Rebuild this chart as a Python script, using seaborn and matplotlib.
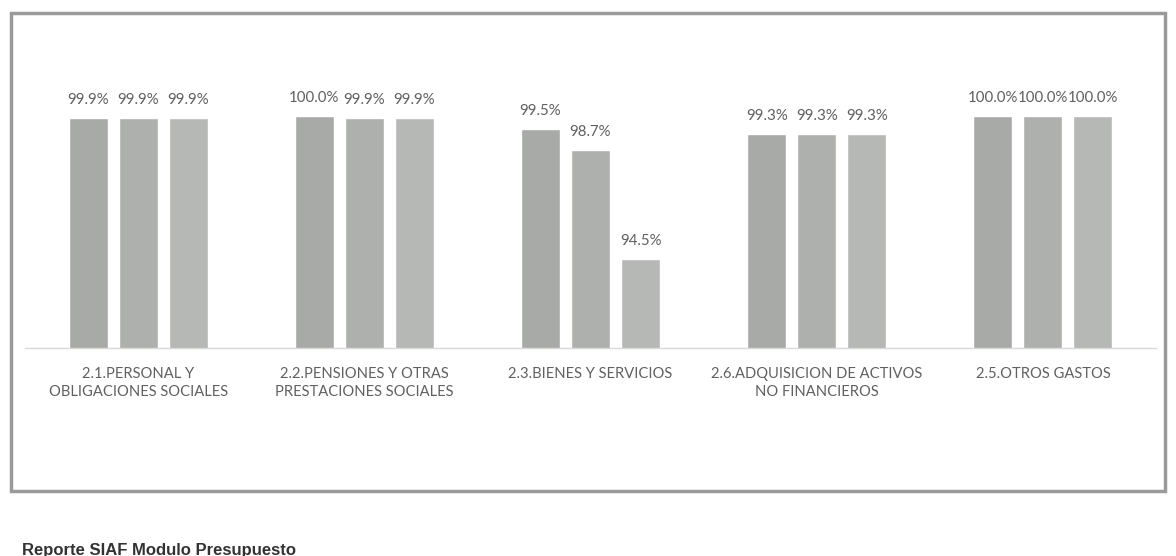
import matplotlib.pyplot as plt
import matplotlib.patches as mpatches
import pandas as pd
import seaborn as sns

# Chart data
categories = [
    "2.1.PERSONAL Y\nOBLIGACIONES SOCIALES",
    "2.2.PENSIONES Y OTRAS\nPRESTACIONES SOCIALES",
    "2.3.BIENES Y SERVICIOS",
    "2.6.ADQUISICION DE ACTIVOS\nNO FINANCIEROS",
    "2.5.OTROS GASTOS",
]
series_names = ["Serie 1", "Serie 2", "Serie 3"]
serie_1 = [99.9, 100.0, 99.5, 99.3, 100.0]
serie_2 = [99.9, 99.9, 98.7, 99.3, 100.0]
serie_3 = [99.9, 99.9, 94.5, 99.3, 100.0]

bar_colors = ["#a8aaa8", "#aeb0ae", "#b6b8b6"]

# Long-form table for seaborn
rows = []
for name, values in zip(series_names, [serie_1, serie_2, serie_3]):
    for cat, val in zip(categories, values):
        rows.append({"categoria": cat, "serie": name, "valor": val})
df = pd.DataFrame(rows)

sns.set_style("white")
plt.rcParams["font.family"] = ["Lato", "DejaVu Sans"]

fig = plt.figure(figsize=(11.76, 5.56), dpi=100)
ax = fig.add_axes([25 / 1176, 1 - 348 / 556, (1156 - 25) / 1176, (348 - 60) / 556])

sns.barplot(
    data=df, x="categoria", y="valor", hue="serie",
    palette=bar_colors, width=0.664, gap=0.22,
    saturation=1, legend=False, ax=ax,
)

ax.set_ylim(91.07, 102.15)
ax.set_xlim(-0.5, len(categories) - 0.5)

for container in ax.containers:
    ax.bar_label(container, fmt="%.1f%%", padding=8, fontsize=10.8, color="#5f5f5f")

ax.set_xlabel("")
ax.set_ylabel("")
ax.set_yticks([])
ax.tick_params(axis="x", length=0, pad=14, labelsize=10.6, labelcolor="#606060")
for lbl in ax.get_xticklabels():
    lbl.set_linespacing(1.35)
for side in ["top", "left", "right"]:
    ax.spines[side].set_visible(False)
ax.spines["bottom"].set_color("#d9d9d9")
ax.spines["bottom"].set_linewidth(1)

# Frame around the chart as in the scanned page
frame = mpatches.Rectangle(
    (11 / 1176, 1 - 491 / 556), (1165 - 11) / 1176, (491 - 13) / 556,
    transform=fig.transFigure, fill=False, edgecolor="#9a9a9a", linewidth=2.5,
)
fig.patches.append(frame)

fig.text(22 / 1176, 1 - 543 / 556, "Reporte SIAF Modulo Presupuesto",
         fontsize=12, fontweight="bold", color="#333333", va="top",
         family=["Liberation Sans", "DejaVu Sans"])

fig.savefig("out.png", dpi=100)
